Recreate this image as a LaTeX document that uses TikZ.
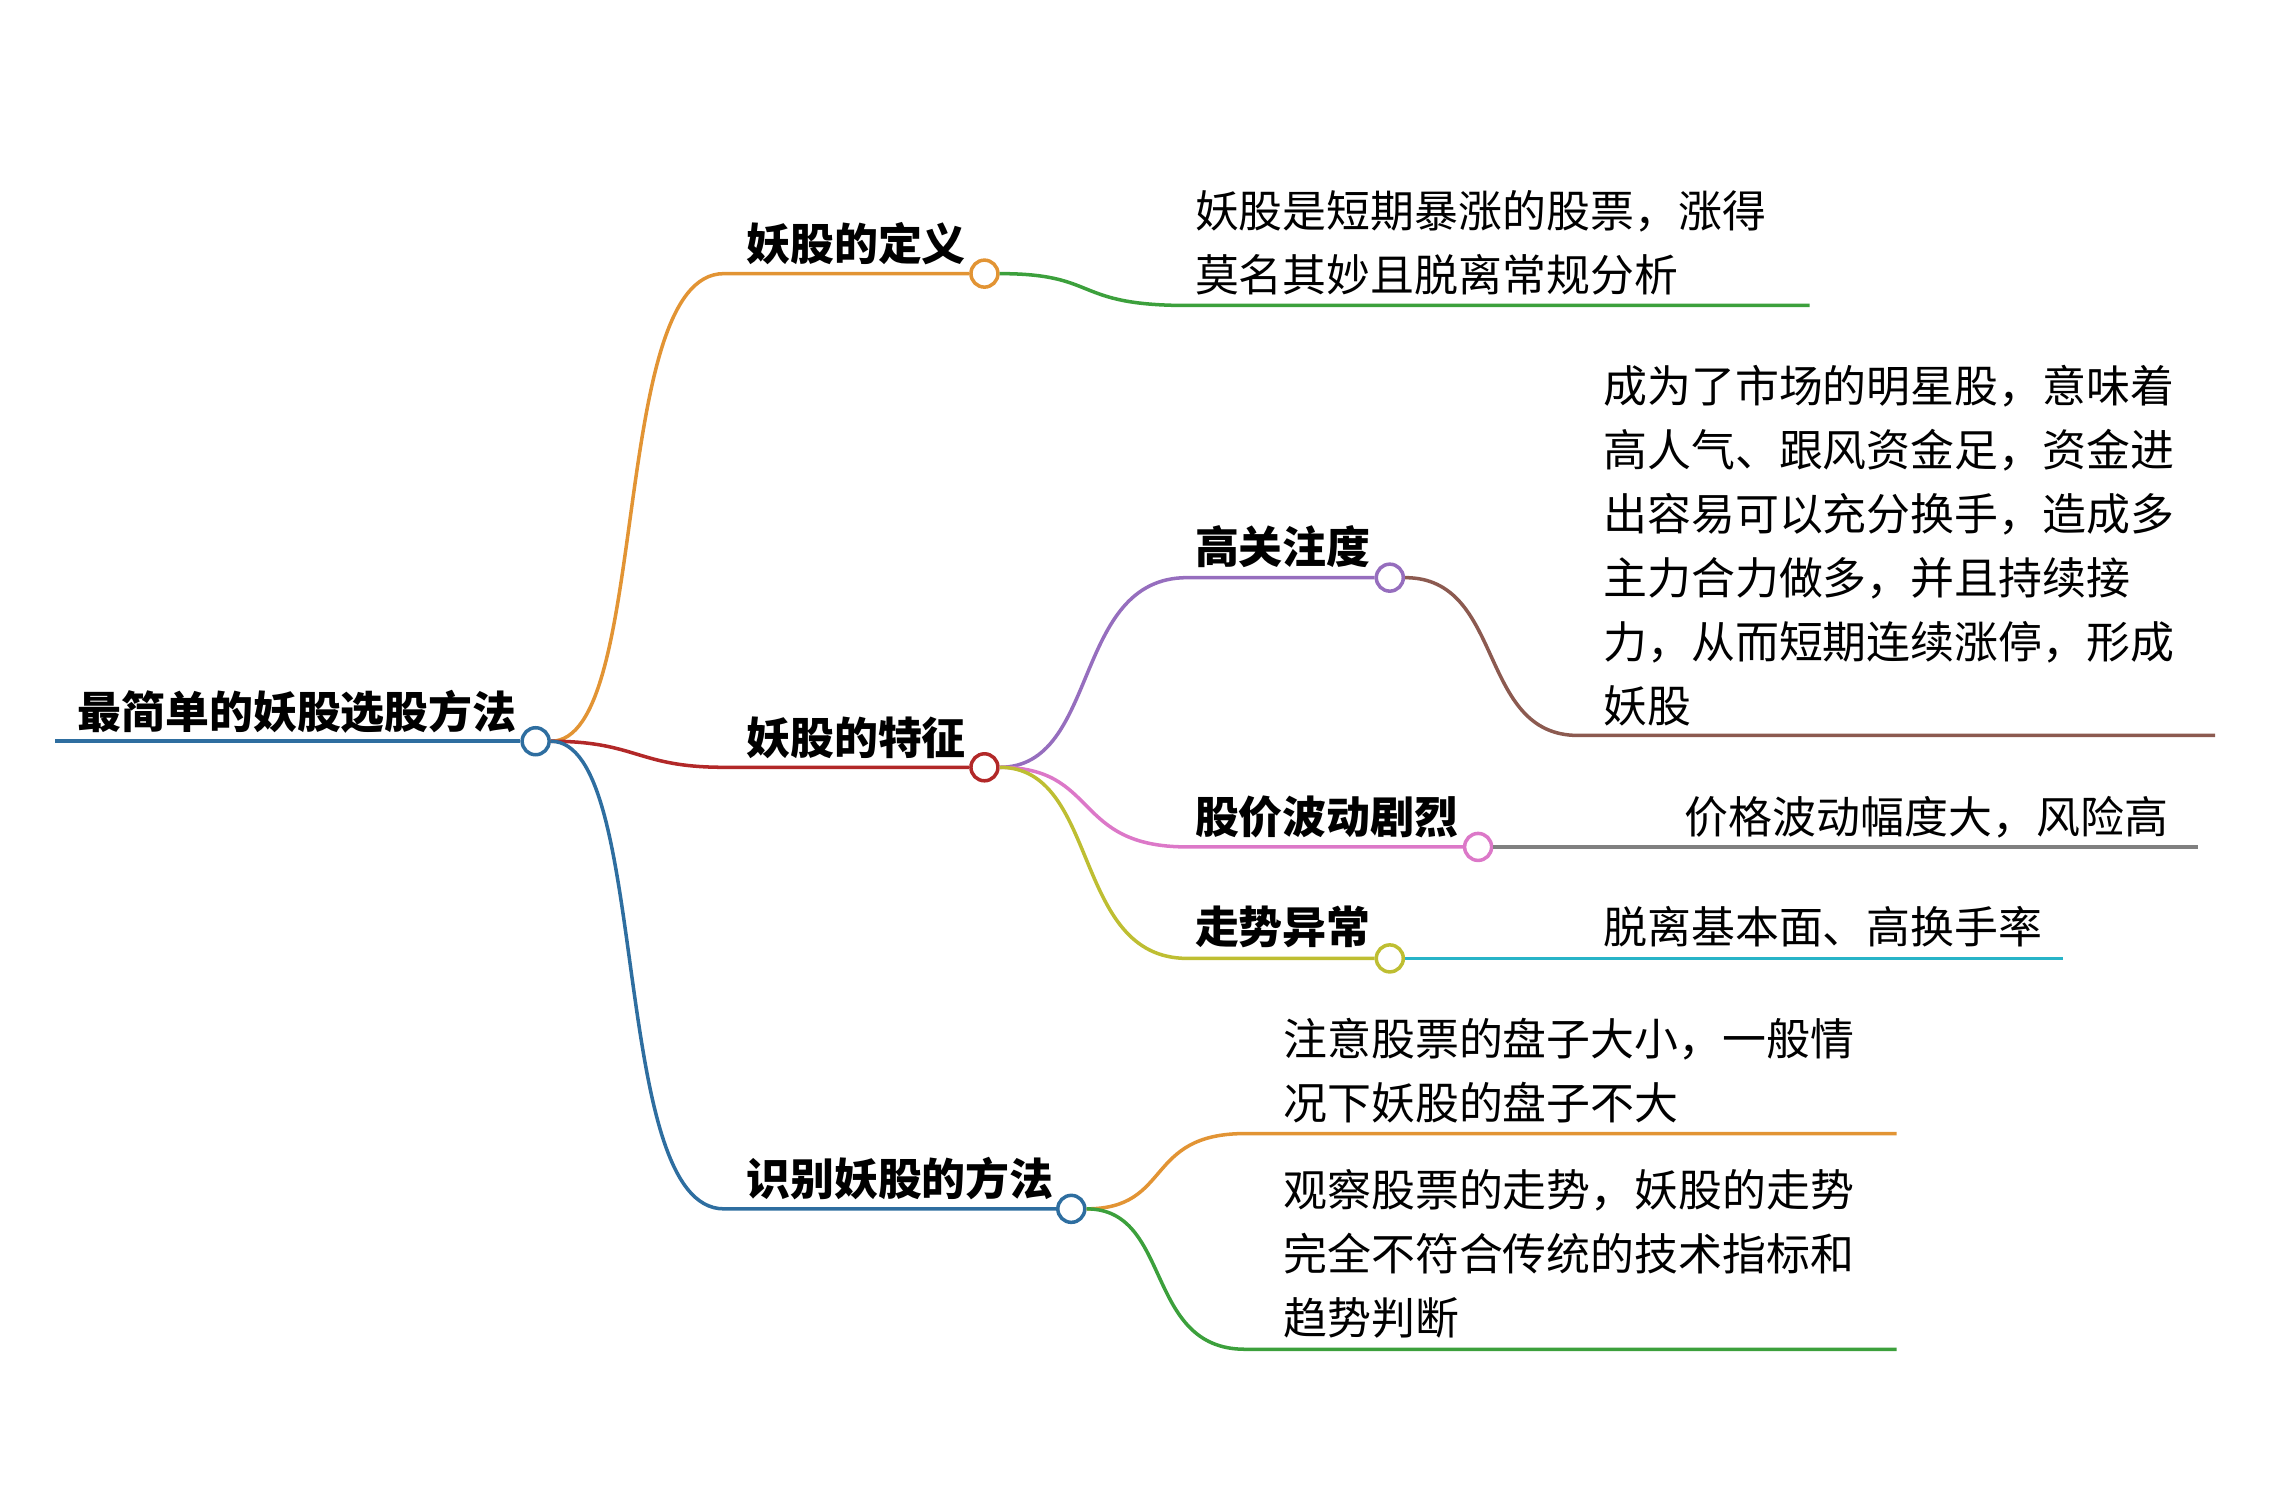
\documentclass[tikz,border=0pt]{standalone}
\usepackage{fontspec}
\setmainfont{Noto Sans CJK SC}
\usepackage{tikz}

\begin{document}
\begin{tikzpicture}[x=0.01448cm,y=-0.01448cm]
	\tikzstyle{dot}=[circle,draw,fill=white,line width=1pt,minimum size=0.27cm,inner sep=0pt]
	\tikzstyle{topic}=[anchor=base west,inner sep=0pt,font=\fontsize{12.5}{15}\selectfont\bfseries]
	\tikzstyle{leaf}=[anchor=base west,inner sep=0pt,align=left,font=\fontsize{12.5}{18.2}\selectfont]
	\tikzstyle{link}=[line width=1pt]
	\definecolor{cblue}{RGB}{46,110,160}
	\definecolor{corange}{RGB}{226,148,52}
	\definecolor{cred}{RGB}{178,40,40}
	\definecolor{cgreen}{RGB}{60,160,60}
	\definecolor{cpurple}{RGB}{150,110,190}
	\definecolor{cpink}{RGB}{220,120,200}
	\definecolor{colive}{RGB}{190,190,50}
	\definecolor{cbrown}{RGB}{140,90,80}
	\definecolor{cgray}{RGB}{128,128,128}
	\definecolor{cteal}{RGB}{40,180,200}
	\useasboundingbox (0,0) rectangle (1568,1030);
	% root
	\coordinate (rstart) at (38,512);
	\node[topic] (root) at (53,503) {最简单的妖股选股方法};
	\node[dot,draw=cblue](r) at (370,512) {};
	\draw[link,cblue] (rstart) -- (r);
	% level one
	\node[topic] (t1) at (515,180) {妖股的定义};
	\node[topic] (t2) at (515,521) {妖股的特征};
	\node[topic] (t3) at (515,826) {识别妖股的方法};
	\node[dot,draw=corange](d1) at (680,189) {};
	\node[dot,draw=cred](d2) at (680,530) {};
	\node[dot,draw=cblue](d3) at (740,835) {};
	\draw[link,corange] (r) .. controls (450,512) and (420,189) .. (500,189) -- (d1);
	\draw[link,cred] (r) .. controls (440,512) and (440,530) .. (500,530) -- (d2);
	\draw[link,cblue] (r) .. controls (450,512) and (420,835) .. (500,835) -- (d3);
	% level two
	\node[topic] (s1) at (825,389) {高关注度};
	\node[topic] (s2) at (825,576) {股价波动剧烈};
	\node[topic] (s3) at (825,652) {走势异常};
	\node[dot,draw=cpurple](e1) at (960,399) {};
	\node[dot,draw=cpink](e2) at (1021,585) {};
	\node[dot,draw=colive](e3) at (960,662) {};
	\draw[link,cpurple] (d2) .. controls (760,530) and (740,399) .. (820,399) -- (e1);
	\draw[link,cpink] (d2) .. controls (760,530) and (740,585) .. (820,585) -- (e2);
	\draw[link,colive] (d2) .. controls (760,530) and (740,662) .. (820,662) -- (e3);
	% leaves (base = last line)
	\node[leaf] (l1) at (825,201) {妖股是短期暴涨的股票，涨得\\莫名其妙且脱离常规分析};
	\coordinate (l1e) at (1250,211);
	\draw[link,cgreen] (d1) .. controls (760,189) and (740,211) .. (820,211) -- (l1e);
	\node[leaf] (l2) at (1107,499) {成为了市场的明星股，意味着\\高人气、跟风资金足，资金进\\出容易可以充分换手，造成多\\主力合力做多，并且持续接\\力，从而短期连续涨停，形成\\妖股};
	\coordinate (l2e) at (1530,508);
	\draw[link,cbrown] (e1) .. controls (1040,399) and (1020,508) .. (1090,508) -- (l2e);
	\node[leaf,anchor=base east] (l3) at (1498,576) {价格波动幅度大，风险高};
	\coordinate (l3e) at (1518,585);
	\draw[link,cgray] (e2) -- (l3e);
	\node[leaf] (l4) at (1107,652) {脱离基本面、高换手率};
	\coordinate (l4e) at (1425,662);
	\draw[link,cteal] (e3) -- (l4e);
	\node[leaf] (l5) at (886,773) {注意股票的盘子大小，一般情\\况下妖股的盘子不大};
	\coordinate (l5e) at (1310,783);
	\draw[link,corange] (d3) .. controls (810,835) and (790,783) .. (860,783) -- (l5e);
	\node[leaf] (l6) at (886,922) {观察股票的走势，妖股的走势\\完全不符合传统的技术指标和\\趋势判断};
	\coordinate (l6e) at (1310,932);
	\draw[link,cgreen] (d3) .. controls (810,835) and (790,932) .. (860,932) -- (l6e);
\end{tikzpicture}
\end{document}
